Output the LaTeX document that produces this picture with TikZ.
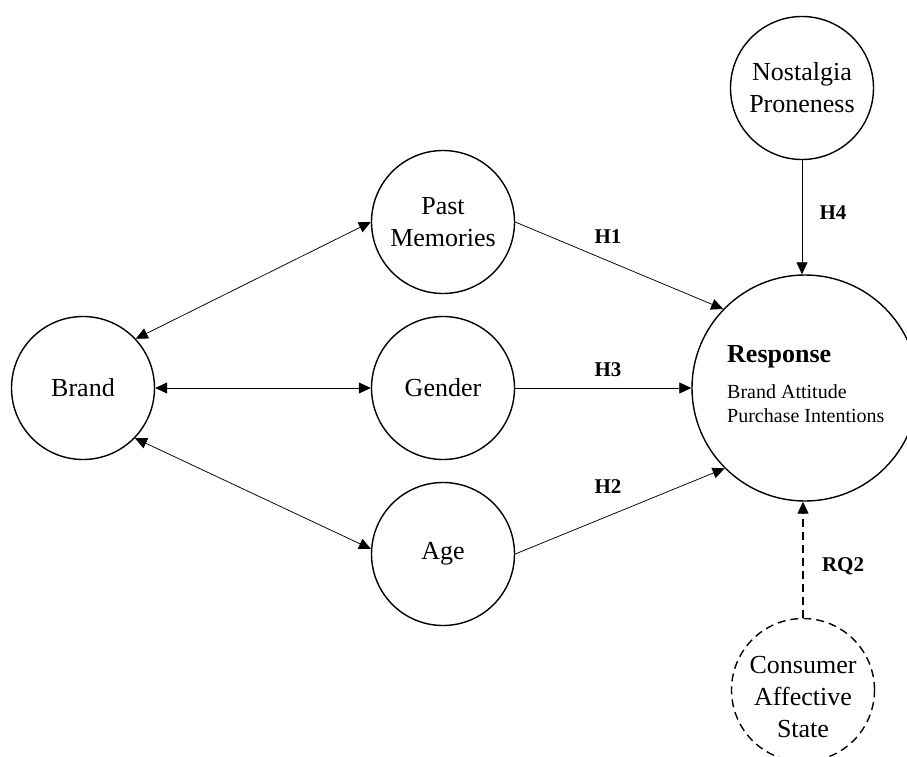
\documentclass[tikz,border=0pt]{standalone}
\usepackage{fontspec}
\setmainfont{Liberation Serif}
\usetikzlibrary{arrows.meta}
\begin{document}
\begin{tikzpicture}[x=1pt,y=-1pt,
  concept/.style={circle, draw, line width=1.4pt, minimum size=143pt, inner sep=0pt, align=center, font=\fontsize{26}{32}\selectfont},
  plaintext/.style={inner sep=0pt, align=center, font=\fontsize{26}{32}\selectfont},
  link/.style={line width=0.75pt, draw=black, -{Triangle[length=12pt,width=11pt]}},
  bilink/.style={line width=0.75pt, draw=black, {Triangle[length=12pt,width=11pt]}-{Triangle[length=12pt,width=11pt]}},
  dashlink/.style={line width=1.2pt, draw=black, dash pattern=on 8pt off 5pt, -{Triangle[length=12pt,width=11pt]}},
  hyp/.style={inner sep=0pt, font=\bfseries\fontsize{21}{25}\selectfont}]
\useasboundingbox (0,0) rectangle (907,757);
\fill[white] (0,0) rectangle (907,757);
% circles
\node[concept] (brand) at (83,388) {Brand};
\node[concept] (pm) at (443,222) {Past\\Memories};
\node[concept] (gender) at (443,388) {Gender};
\node[concept] (age) at (443,554) {Age};
\node[concept] (nost) at (802,88) {Nostalgia\\Proneness};
\node[circle, draw, line width=1.4pt, minimum size=226pt, inner sep=0pt] (resp) at (805,388) {};
\node[circle, draw, line width=1.4pt, dash pattern=on 8pt off 5pt, minimum size=143pt, inner sep=0pt] (cons) at (803,690) {};
\node[plaintext] (constext) at (803,697) {Consumer\\Affective\\State};
% response texts
\node[anchor=base west, inner sep=0pt, font=\bfseries\fontsize{26}{30}\selectfont] (resptitle) at (727,362) {Response};
\node[anchor=base west, inner sep=0pt, font=\fontsize{20}{24}\selectfont] (respa) at (727,398) {Brand Attitude};
\node[anchor=base west, inner sep=0pt, font=\fontsize{20}{24}\selectfont] (respb) at (727,422) {Purchase Intentions};
% connectors
\draw[bilink] (brand.43) -- (pm.west);
\draw[bilink] (brand.east) -- (gender.west);
\draw[bilink] (brand.-44) -- (age.176);
\draw[link] (pm.east) -- (resp.136);
\draw[link] (gender.east) -- (resp.west);
\draw[link] (age.east) -- (resp.225);
\draw[link] (nost.south) -- (nost.south |- resp.north);
\draw[dashlink] (cons.north) -- (cons.north |- resp.south);
% labels
\node[hyp] (h1) at (608,237) {H1};
\node[hyp] (h3) at (608,370) {H3};
\node[hyp] (h2) at (608,487) {H2};
\node[hyp] (h4) at (833,213) {H4};
\node[hyp] (rq2) at (843,566) {RQ2};
\end{tikzpicture}
\end{document}
